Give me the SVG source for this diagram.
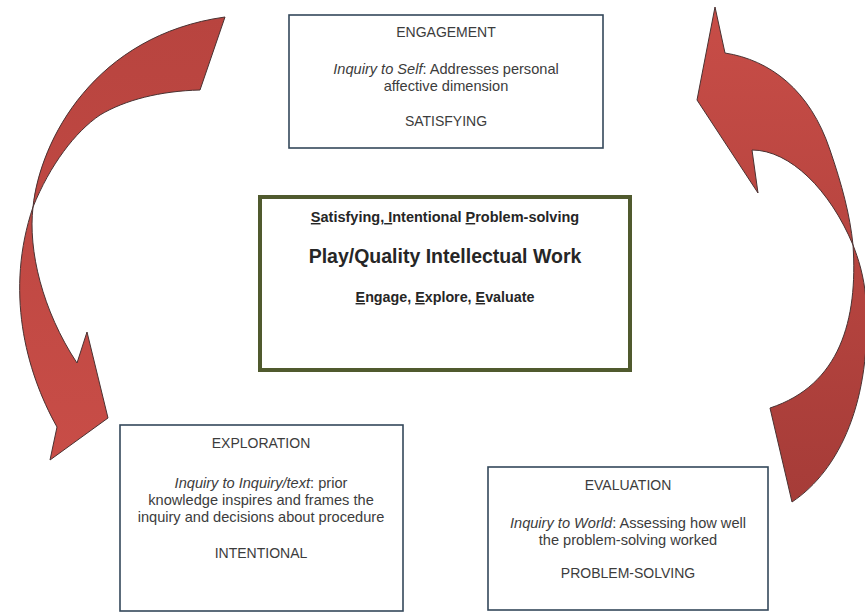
<svg xmlns="http://www.w3.org/2000/svg" width="865" height="613" viewBox="0 0 865 613">
<defs>
<style>
.box{fill:#fff;stroke:#34485a;stroke-width:1.6}
.core{fill:#fff;stroke:#505a2e;stroke-width:4}
.t{font-family:"Liberation Sans",Arial,sans-serif;font-size:14px;fill:#3c3c3c;text-anchor:middle}
.b{font-size:14.6px}
.i{font-style:italic}
.c{font-family:"Liberation Sans",Arial,sans-serif;fill:#262626;text-anchor:middle;font-weight:bold}
.u{text-decoration:underline}
.arrow{stroke:#4a3232;stroke-width:1;stroke-linejoin:round}
</style>
<linearGradient id="gl" x1="0" y1="0" x2="0" y2="1">
<stop offset="0" stop-color="#b8443f"/><stop offset="1" stop-color="#c84d47"/>
</linearGradient>
<linearGradient id="gr" x1="0" y1="0" x2="0" y2="1">
<stop offset="0" stop-color="#c84d47"/><stop offset="1" stop-color="#a63c38"/>
</linearGradient>
</defs>
<rect width="865" height="613" fill="#fff"/>
<g id="connectors">
<path class="arrow" fill="url(#gl)" d="M225,17 L200,90 C160,91 125,100 100,115 C75,132 50,165 33,207 C5,290 25,370 57,427 L50,460 L108,418 L87,332 L77,363 C42,310 28,250 33,207 C40,140 95,35 225,17 Z"/>
<path class="arrow" fill="url(#gr)" d="M715,7 L725,53 C770,60 810,90 830,150 C842,185 850,215 853,245 C858,320 840,385 770,408 L792,502 C840,470 872,400 866,300 C864,275 858,258 853,245 C830,190 790,150 752,150 L758,193 L697,100 Z"/>
</g>
<g id="engagement">
<rect class="box" x="289" y="15" width="314" height="133"/>
<text class="t" x="446" y="37">ENGAGEMENT</text>
<text class="t b" x="446" y="74"><tspan class="i">Inquiry to Self</tspan>: Addresses personal</text>
<text class="t b" x="446" y="91">affective dimension</text>
<text class="t" x="446" y="126">SATISFYING</text>
</g>
<g id="core">
<rect class="core" x="260" y="197" width="370" height="173"/>
<text class="c" x="445" y="222" font-size="14.5"><tspan class="u">S</tspan>atisfying,<tspan class="u"> I</tspan>ntentional <tspan class="u">P</tspan>roblem-solving</text>
<text class="c" x="445" y="263" font-size="19.5">Play/Quality Intellectual Work</text>
<text class="c" x="445" y="302" font-size="14.3"><tspan class="u">E</tspan>ngage, <tspan class="u">E</tspan>xplore, <tspan class="u">E</tspan>valuate</text>
</g>
<g id="exploration">
<rect class="box" x="120" y="425" width="283" height="186"/>
<text class="t" x="261" y="448">EXPLORATION</text>
<text class="t b" x="261" y="488"><tspan class="i">Inquiry to Inquiry/text</tspan>: prior</text>
<text class="t b" x="261" y="505">knowledge inspires and frames the</text>
<text class="t b" x="261" y="522">inquiry and decisions about procedure</text>
<text class="t" x="261" y="558">INTENTIONAL</text>
</g>
<g id="evaluation">
<rect class="box" x="488" y="467" width="280" height="143"/>
<text class="t" x="628" y="490">EVALUATION</text>
<text class="t b" x="628" y="528"><tspan class="i">Inquiry to World</tspan>: Assessing how well</text>
<text class="t b" x="628" y="545">the problem-solving worked</text>
<text class="t" x="628" y="578">PROBLEM-SOLVING</text>
</g>
</svg>
